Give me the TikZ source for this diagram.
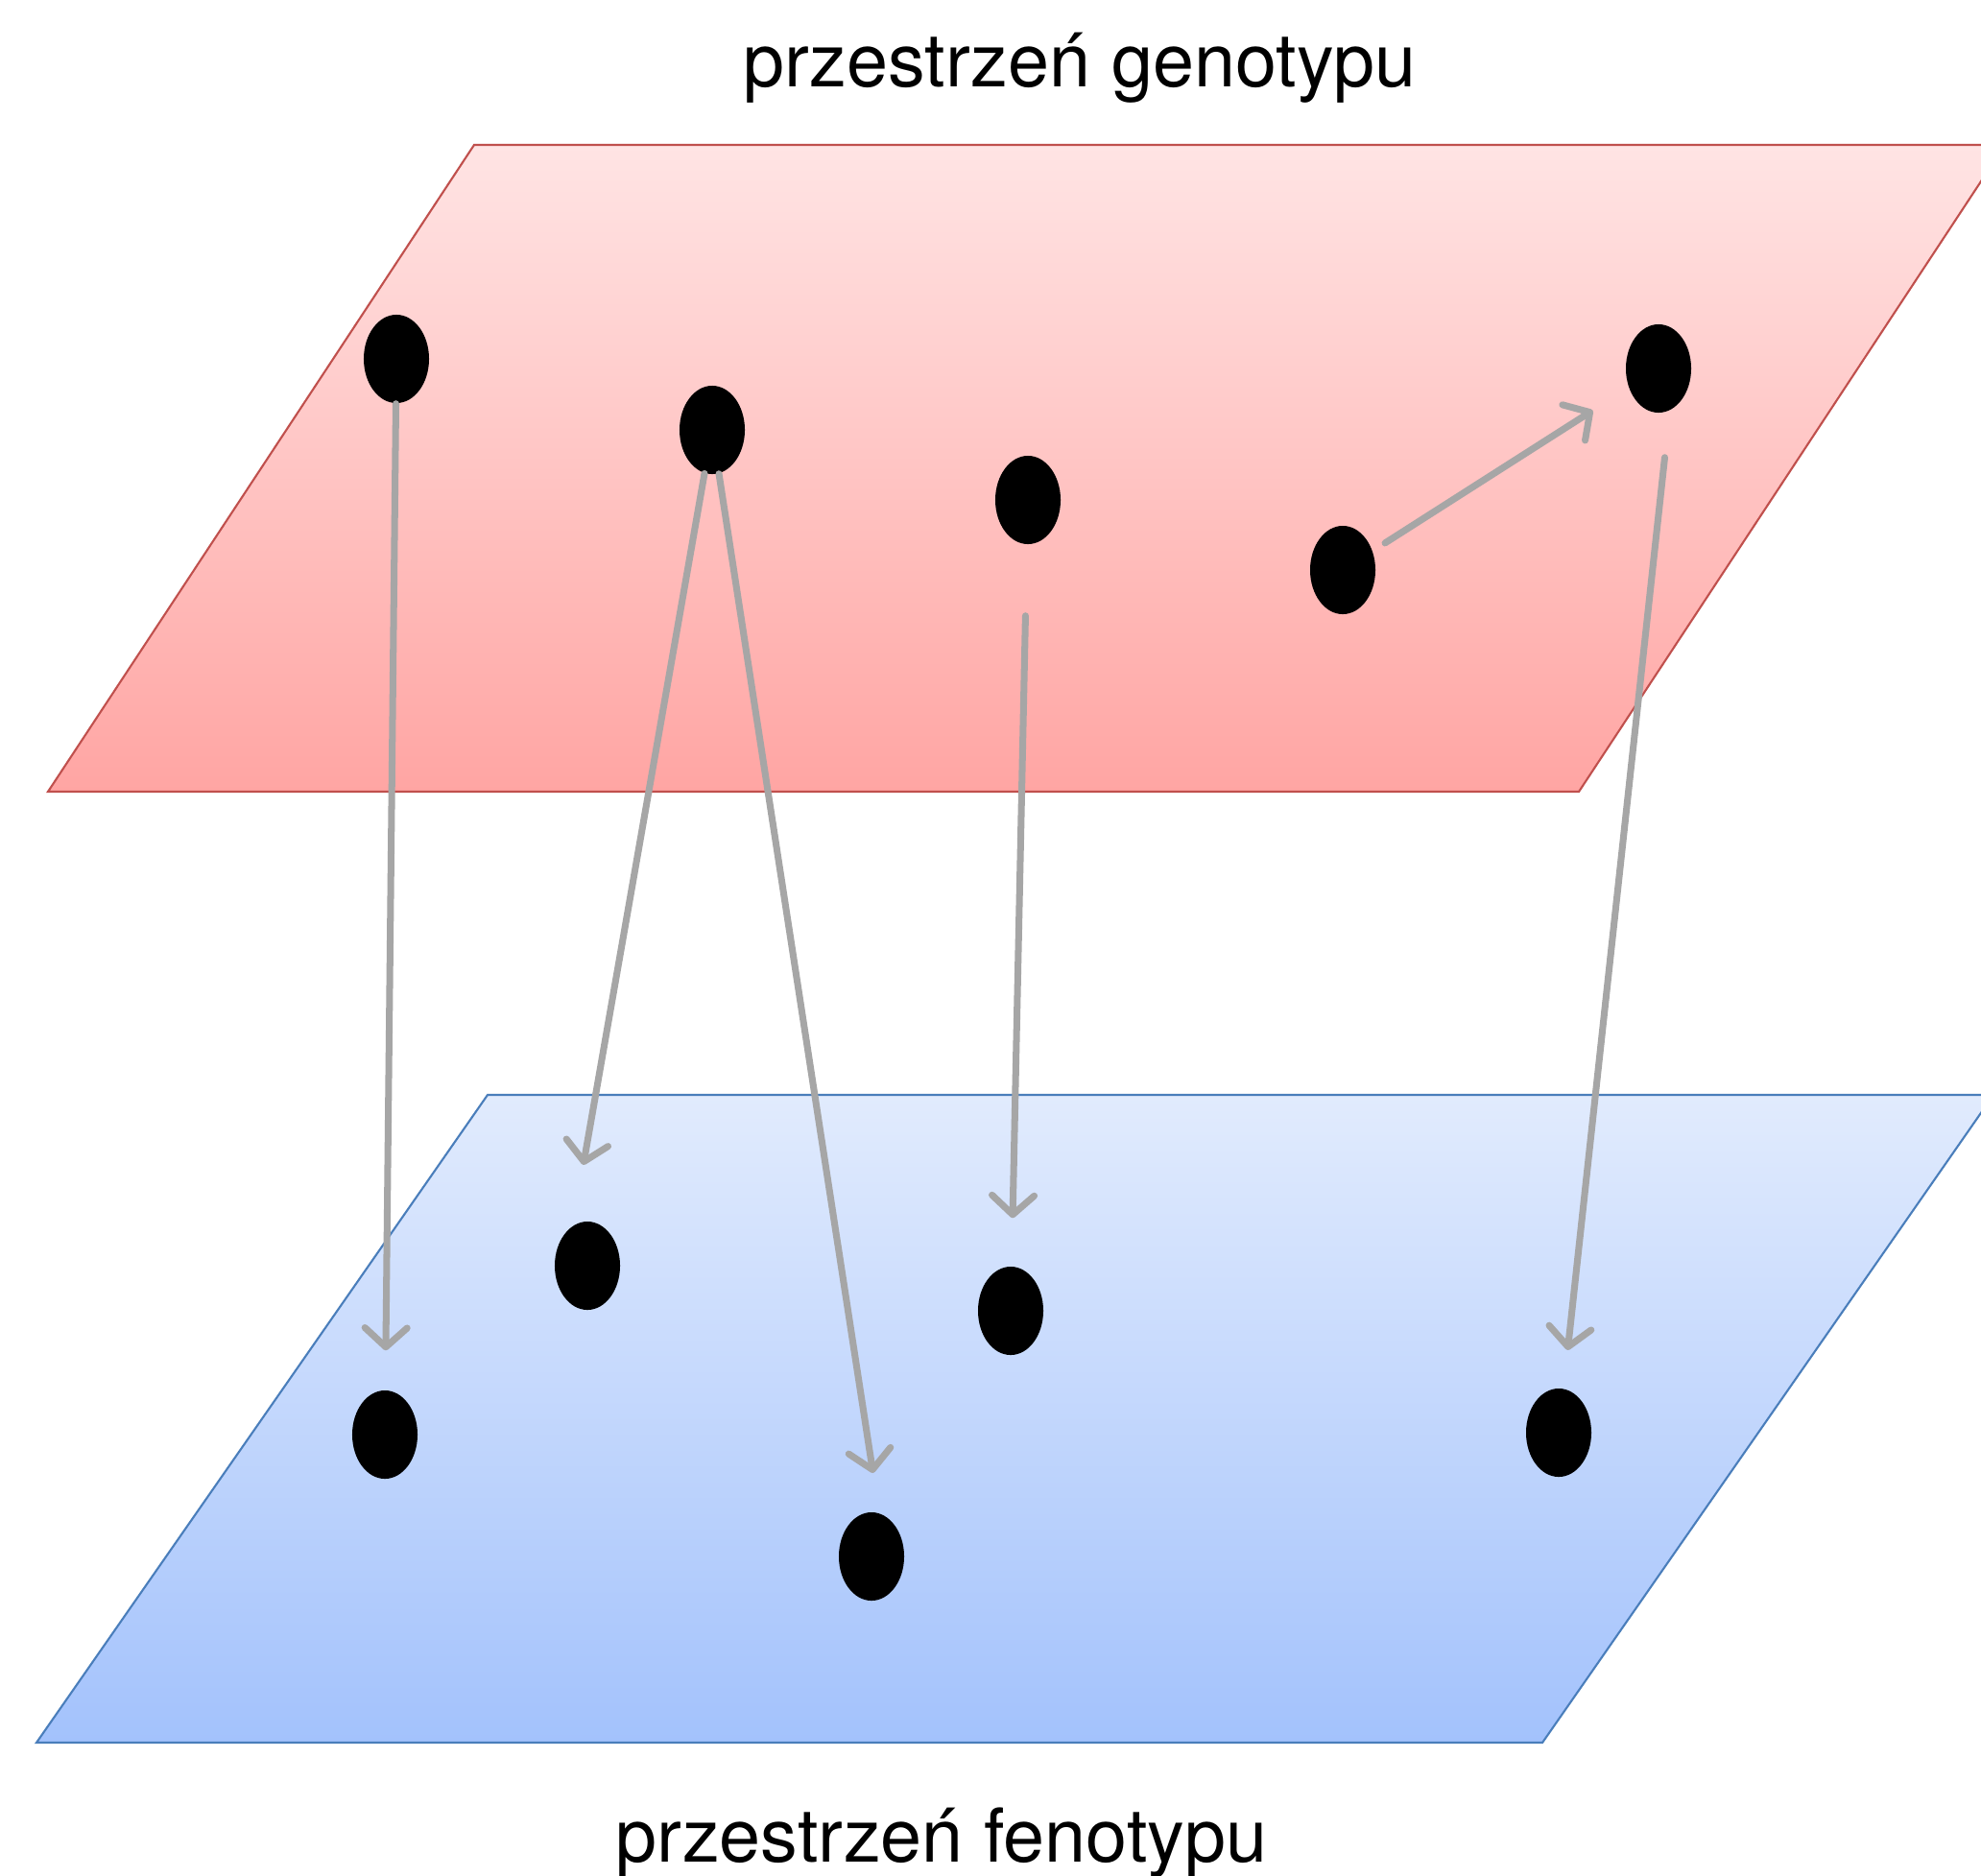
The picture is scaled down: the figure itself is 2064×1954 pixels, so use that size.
\documentclass[tikz,border=0pt]{standalone}
\usepackage{fontspec}
\setmainfont{TeX Gyre Heros}
\usepackage{tikz}
\usetikzlibrary{shapes, arrows.meta}
\usepackage{xcolor}
\definecolor{genoTop}{HTML}{FFE4E4}
\definecolor{genoBot}{HTML}{FFA5A3}
\definecolor{genoLine}{HTML}{C0504D}
\definecolor{fenoTop}{HTML}{E1EBFD}
\definecolor{fenoBot}{HTML}{A3C2FC}
\definecolor{fenoLine}{HTML}{4A7EBB}
\definecolor{mapGray}{HTML}{A6A6A6}

\begin{document}
\begin{tikzpicture}[x=0.01cm, y=-0.01cm,
    dot/.style={ellipse, fill=black, inner sep=0pt, minimum width=0.68cm, minimum height=0.92cm},
    map/.style={draw=mapGray, line width=2pt, line cap=round,
        -{Straight Barb[round, length=0.2cm, width=0.44cm]}},
    spacename/.style={anchor=base, font=\fontsize{22}{26}\selectfont}]
    \useasboundingbox (0,0) rectangle (2064,1954);
    \clip (0,0) rectangle (2064,1954);

    % Genotype plane
    \draw[genoLine, line width=0.6pt, top color=genoTop, bottom color=genoBot]
        (494,151) -- (2089,151) -- (1645,825) -- (50,825) -- cycle;
    \node[spacename] (geno) at (1125,90) {przestrzeń genotypu};

    % Phenotype plane
    \draw[fenoLine, line width=0.6pt, top color=fenoTop, bottom color=fenoBot]
        (508,1141) -- (2077,1141) -- (1607,1816) -- (38,1816) -- cycle;
    \node[spacename] (feno) at (981,1940) {przestrzeń fenotypu};

    % Genotypes
    \node[dot] (g1) at (413,374) {};
    \node[dot] (g2) at (742,448) {};
    \node[dot] (g3) at (1071,521) {};
    \node[dot] (g4) at (1399,594) {};
    \node[dot] (g5) at (1728,384) {};

    % Phenotypes
    \node[dot] (f1) at (612,1319) {};
    \node[dot] (f2) at (1053,1366) {};
    \node[dot] (f3) at (401,1495) {};
    \node[dot] (f4) at (908,1622) {};
    \node[dot] (f5) at (1624,1493) {};

    % Mapping
    \draw[map, shorten >=0.41cm] (g1) -- (f3);
    \draw[map, shorten >=0.64cm] (g2.-100) -- (f1.110);
    \draw[map, shorten >=0.42cm] (g2) -- (f4.80);
    \draw[map, shorten <=0.74cm, shorten >=0.50cm] (g3) -- (f2);
    \draw[map, shorten <=0.15cm, shorten >=0.44cm] (g4) -- (g5);
    \draw[map, shorten <=0.49cm, shorten >=0.40cm] (g5.-75) -- (f5);
\end{tikzpicture}
\end{document}
